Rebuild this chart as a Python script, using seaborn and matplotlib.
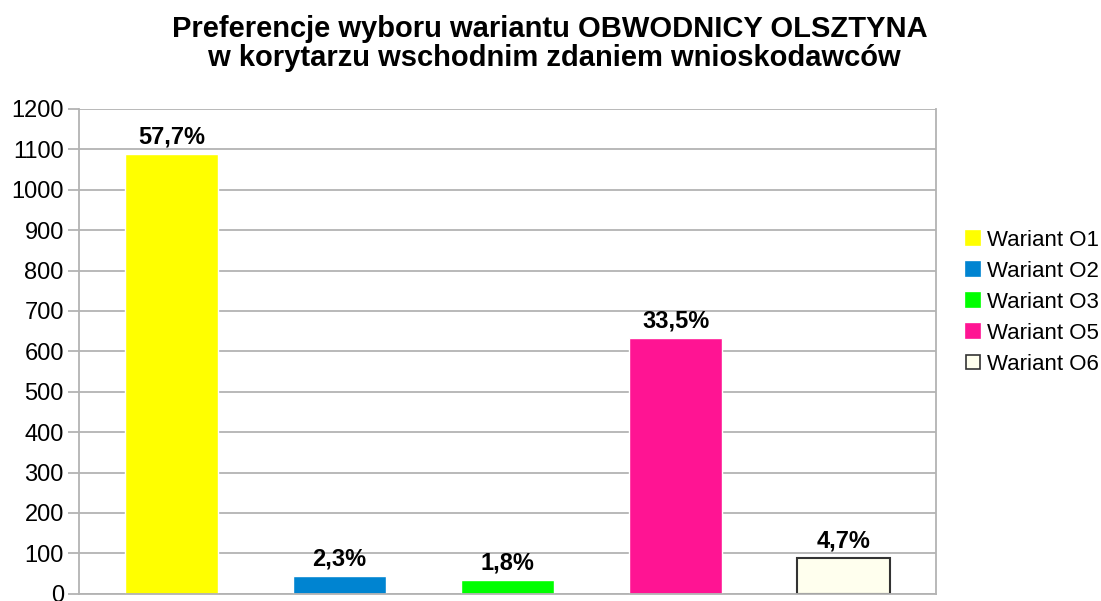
import matplotlib
matplotlib.use("Agg")
import matplotlib.pyplot as plt
import seaborn as sns
from matplotlib.patches import Patch

# dane
warianty = ["Wariant O1", "Wariant O2", "Wariant O3", "Wariant O5", "Wariant O6"]
glosy = [1089, 44, 34, 632, 89]
procenty = ["57,7%", "2,3%", "1,8%", "33,5%", "4,7%"]
kolory = ["#FFFF00", "#0084D1", "#00FF00", "#FF1493", "#FFFFEE"]
tytul = ["Preferencje wyboru wariantu OBWODNICY OLSZTYNA",
         " w korytarzu wschodnim zdaniem wnioskodawców"]

sns.set_style("white")
plt.rcParams["font.family"] = ["Liberation Sans", "DejaVu Sans"]
plt.rcParams["text.color"] = "black"
plt.rcParams["ytick.labelcolor"] = "black"

fig = plt.figure(figsize=(11.01, 6.01), dpi=100)
ax = fig.add_axes([0.0718, 0.012, 0.7784, 0.8068])

sns.barplot(x=warianty, y=glosy, hue=warianty, palette=kolory, width=0.55,
            dodge=False, legend=False, ax=ax, saturation=1)

# ostatni slupek z czarna ramka
for p in ax.containers[4]:
    p.set_edgecolor("#333333")
    p.set_linewidth(1.5)

for cont, lab in zip(ax.containers, procenty):
    ax.bar_label(cont, labels=[lab], padding=4, fontsize=17, fontweight="bold", color="black")

ax.set_ylim(0, 1200)
ax.set_xlim(-0.55, 4.55)
ax.set_yticks(range(0, 1201, 100))
ax.set_xticks([])
ax.set_xlabel("")
ax.set_ylabel("")
ax.yaxis.grid(True, color="#b3b3b3", linewidth=1.3)
ax.set_axisbelow(True)
ax.tick_params(axis="y", labelsize=17, length=8, color="#b3b3b3", width=1.3, pad=3,
               left=True, labelcolor="black")
for s in ["left", "right", "bottom"]:
    ax.spines[s].set_visible(True)
    ax.spines[s].set_color("#b3b3b3")
    ax.spines[s].set_linewidth(1.3)
ax.spines["top"].set_visible(False)

fig.text(0.4995, 1 - 37 / 601, tytul[0], ha="center", va="baseline",
         fontsize=21, fontweight="bold")
fig.text(0.4995, 1 - 66 / 601, tytul[1], ha="center", va="baseline",
         fontsize=21, fontweight="bold")

uchwyty = [Patch(facecolor=k, edgecolor=("#333333" if i == 4 else k), linewidth=1.2)
           for i, k in enumerate(kolory)]
fig.legend(uchwyty, warianty, loc="center left", bbox_to_anchor=(0.877, 0.497),
           frameon=False, fontsize=16, handlelength=0.65, handleheight=0.65,
           handletextpad=0.3, labelspacing=0.45, borderpad=0, borderaxespad=0)

fig.savefig("out.png", dpi=100)
